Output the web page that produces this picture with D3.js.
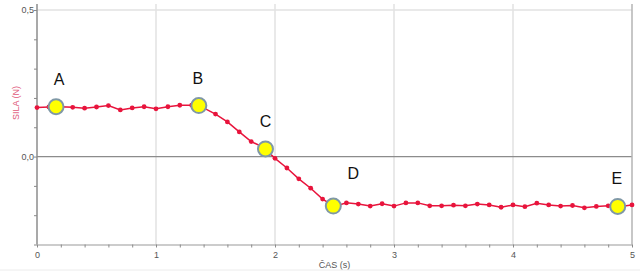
<!DOCTYPE html>
<html>
<head>
<meta charset="utf-8">
<script src="https://cdn.jsdelivr.net/npm/d3@7"></script>
<style>
  body { margin: 0; background: #fff; }
  svg { display: block; font-family: Arial, "Liberation Sans", sans-serif; }
</style>
</head>
<body>
<div id="chart"></div>
<script>
// Measured series: time (s) and force (N)
const times = [0.0, 0.1, 0.2, 0.3, 0.4, 0.5, 0.6, 0.7, 0.8, 0.9,
  1.0, 1.1, 1.2, 1.3, 1.4, 1.5, 1.6, 1.7, 1.8, 1.9,
  2.0, 2.1, 2.2, 2.3, 2.4, 2.5, 2.6, 2.7, 2.8, 2.9,
  3.0, 3.1, 3.2, 3.3, 3.4, 3.5, 3.6, 3.7, 3.8, 3.9,
  4.0, 4.1, 4.2, 4.3, 4.4, 4.5, 4.6, 4.7, 4.8, 4.9, 5.0];
const force = [0.167, 0.169, 0.170, 0.168, 0.165, 0.169, 0.174, 0.159, 0.166, 0.170,
  0.163, 0.170, 0.175, 0.175, 0.166, 0.145, 0.118, 0.084, 0.051, 0.032,
  -0.006, -0.039, -0.076, -0.108, -0.145, -0.170, -0.158, -0.162, -0.169, -0.161,
  -0.169, -0.158, -0.158, -0.168, -0.168, -0.166, -0.168, -0.162, -0.165, -0.173,
  -0.165, -0.171, -0.159, -0.165, -0.169, -0.167, -0.175, -0.170, -0.168, -0.170, -0.165];

// Labelled points
const markLabels = ["A", "B", "C", "D", "E"];
const markTimes = [0.16, 1.36, 1.92, 2.49, 4.88];
const markForce = [0.170, 0.174, 0.026, -0.169, -0.170];

// Axis ticks
const xMajorTicks = [0, 1, 2, 3, 4, 5];
const yMajorTicks = [0.0, 0.5];
const yGridTicks = [0.5];
const xGridTicks = [1, 2, 3, 4];

const width = 640, height = 272;
const plot = { left: 37, right: 632, top: 10, bottom: 244.5 };

const svg = d3.select("#chart").append("svg")
    .attr("width", width)
    .attr("height", height);

const x = d3.scaleLinear().domain([0, 5]).range([plot.left, plot.right]);
const y = d3.scaleLinear().domain([-0.3, 0.5]).range([plot.bottom, plot.top]);

// Gridlines
svg.append("g").selectAll("line")
    .data(xGridTicks)
    .join("line")
    .attr("x1", d => x(d)).attr("x2", d => x(d))
    .attr("y1", 4).attr("y2", plot.bottom)
    .attr("stroke", "#e2e2e2")
    .attr("stroke-width", 1.5);

svg.append("g").selectAll("line")
    .data(yGridTicks)
    .join("line")
    .attr("x1", plot.left).attr("x2", plot.right)
    .attr("y1", d => y(d)).attr("y2", d => y(d))
    .attr("stroke", "#e2e2e2")
    .attr("stroke-width", 1.5);

// Zero line
svg.append("line")
    .attr("x1", plot.left).attr("x2", plot.right)
    .attr("y1", y(0)).attr("y2", y(0))
    .attr("stroke", "#8c8c8c")
    .attr("stroke-width", 1.2);

// Right border
svg.append("line")
    .attr("x1", plot.right).attr("x2", plot.right)
    .attr("y1", 4).attr("y2", plot.bottom)
    .attr("stroke", "#b4b4b4")
    .attr("stroke-width", 1.5);

// X axis
const xAxis = svg.append("g")
    .attr("transform", `translate(0,${plot.bottom})`)
    .call(d3.axisBottom(x)
        .tickValues(d3.range(0, 5.001, 0.2).map(v => Math.round(v * 10) / 10))
        .tickSize(3)
        .tickSizeOuter(0)
        .tickFormat(d => xMajorTicks.includes(d) ? String(d) : ""));
xAxis.select(".domain").attr("stroke", "#9a9a9a").attr("stroke-width", 1.2);
xAxis.selectAll(".tick line").attr("stroke", "#8a8a8a");
xAxis.selectAll(".tick text")
    .attr("fill", "#555")
    .attr("font-size", 9)
    .attr("dy", "0.85em");

// Y axis
const fmtY = d => d3.format(".1f")(d).replace(".", ",");
const yAxis = svg.append("g")
    .attr("transform", `translate(${plot.left},0)`)
    .call(d3.axisLeft(y)
        .tickValues(d3.range(-0.3, 0.501, 0.1).map(v => Math.round(v * 10) / 10))
        .tickSize(3)
        .tickSizeOuter(0)
        .tickFormat(d => yMajorTicks.includes(d) ? fmtY(d) : ""));
yAxis.select(".domain")
    .attr("d", `M0,4V${plot.bottom}`)
    .attr("stroke", "#8c8c8c")
    .attr("stroke-width", 1.5);
yAxis.selectAll(".tick line").attr("stroke", "#8a8a8a");
yAxis.selectAll(".tick text")
    .attr("fill", "#555")
    .attr("font-size", 9)
    .attr("x", -3);

// Axis titles
svg.append("text")
    .attr("x", (plot.left + plot.right) / 2)
    .attr("y", 268)
    .attr("text-anchor", "middle")
    .attr("font-size", 9)
    .attr("fill", "#555")
    .text("ČAS (s)");

svg.append("text")
    .attr("transform", "translate(19,103) rotate(-90)")
    .attr("text-anchor", "middle")
    .attr("font-size", 9)
    .attr("fill", "#e0587a")
    .text("SILA (N)");

// Bottom separator
svg.append("line")
    .attr("x1", 0).attr("x2", width)
    .attr("y1", 270).attr("y2", 270)
    .attr("stroke", "#ececec");

// Series line and points
const series = times.map((t, i) => ({ t, v: force[i] }));
const line = d3.line().x(d => x(d.t)).y(d => y(d.v));

svg.append("path")
    .datum(series)
    .attr("d", line)
    .attr("fill", "none")
    .attr("stroke", "#e8143c")
    .attr("stroke-width", 1.5);

svg.append("g").selectAll("circle")
    .data(series)
    .join("circle")
    .attr("cx", d => x(d.t))
    .attr("cy", d => y(d.v))
    .attr("r", 2.4)
    .attr("fill", "#e8143c");

// Labelled markers
const marks = markLabels.map((l, i) => ({ l, t: markTimes[i], v: markForce[i] }));
const labelShift = { A: [3, -22], B: [-1, -22], C: [0, -22], D: [20, -27], E: [-1, -22] };

svg.append("g").selectAll("circle")
    .data(marks)
    .join("circle")
    .attr("cx", d => x(d.t))
    .attr("cy", d => y(d.v))
    .attr("r", 7.5)
    .attr("fill", "#ffff00")
    .attr("stroke", "#7f98a6")
    .attr("stroke-width", 2);

svg.append("g").selectAll("text")
    .data(marks)
    .join("text")
    .attr("x", d => x(d.t) + labelShift[d.l][0])
    .attr("y", d => y(d.v) + labelShift[d.l][1])
    .attr("text-anchor", "middle")
    .attr("font-size", 16)
    .attr("fill", "#111")
    .text(d => d.l);
</script>
</body>
</html>
